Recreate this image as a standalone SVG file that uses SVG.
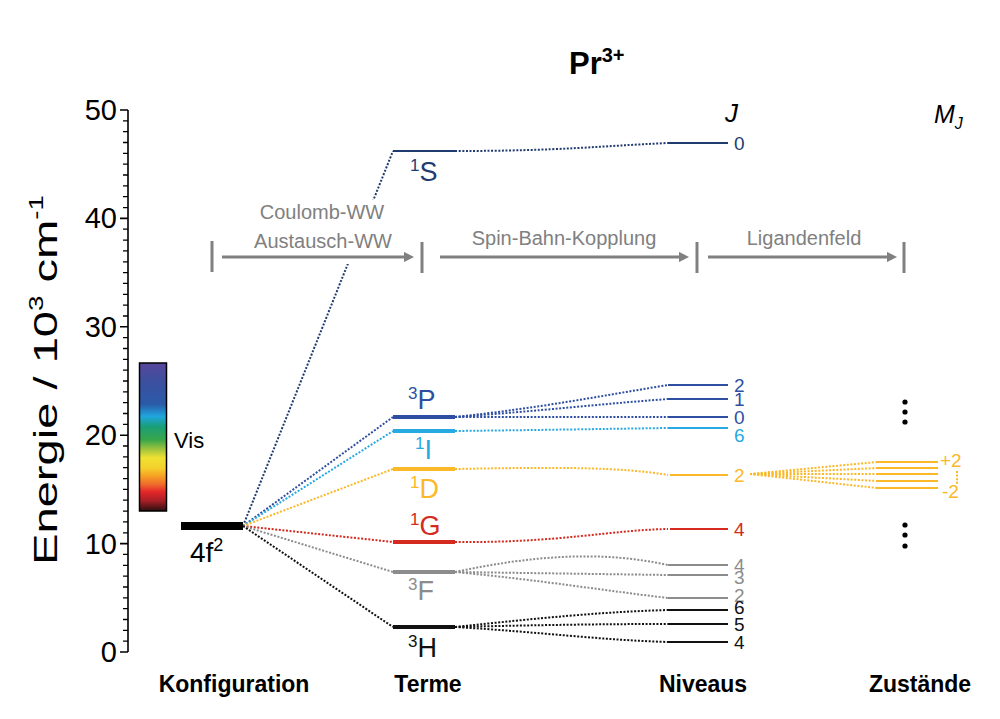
<svg xmlns="http://www.w3.org/2000/svg" width="1000" height="719" viewBox="0 0 1000 719">
<defs>
<linearGradient id="visGrad" x1="0" y1="0" x2="0" y2="1">
<stop offset="0" stop-color="#56479a"/>
<stop offset="0.12" stop-color="#3d4f9f"/>
<stop offset="0.28" stop-color="#2a5ba8"/>
<stop offset="0.36" stop-color="#1fa6df"/>
<stop offset="0.43" stop-color="#1a9e78"/>
<stop offset="0.52" stop-color="#3aa64a"/>
<stop offset="0.58" stop-color="#9cc23e"/>
<stop offset="0.64" stop-color="#efe232"/>
<stop offset="0.71" stop-color="#f5d02c"/>
<stop offset="0.76" stop-color="#f6a424"/>
<stop offset="0.82" stop-color="#ef6b2a"/>
<stop offset="0.87" stop-color="#e4272a"/>
<stop offset="0.93" stop-color="#a91f25"/>
<stop offset="1" stop-color="#2a1010"/>
</linearGradient>
<marker id="arrow" viewBox="0 0 10 10" refX="2" refY="5" markerWidth="3.4" markerHeight="3.4" orient="auto" markerUnits="strokeWidth">
<path d="M0,0 L10,5 L0,10 z" fill="#808080"/>
</marker>
</defs>
<style>
text { font-family: "Liberation Sans", Arial, sans-serif; }
.dot { fill: none; stroke-width: 2; stroke-dasharray: 2 1.6; }
.lvl { stroke-width: 2; fill: none; }
.term { stroke-width: 4; fill: none; }
.tl { font-size: 27px; }
.sup { font-size: 17px; }
.jl { font-size: 19px; }
.proc { fill: #808080; font-size: 20px; text-anchor: middle; }
.bar { stroke: #808080; stroke-width: 3; }
.arr { stroke: #808080; stroke-width: 3; marker-end: url(#arrow); }
.col { font-size: 23px; font-weight: bold; text-anchor: middle; fill: #000; }
.s1S { stroke: #1f3b70; } .f1S { fill: #1f3b70; }
.s3P { stroke: #2e4fa1; } .f3P { fill: #2e4fa1; }
.s1I { stroke: #29a9e1; } .f1I { fill: #29a9e1; }
.s1D { stroke: #fbb829; } .f1D { fill: #fbb829; }
.s1G { stroke: #d42a20; } .f1G { fill: #d42a20; }
.s3F { stroke: #8c8c8c; } .f3F { fill: #8c8c8c; }
.s3H { stroke: #111111; } .f3H { fill: #111111; }
.ell { fill: #000; }
</style>

<!-- title and column headers -->
<g id="title">
<text x="569" y="74" font-size="31" font-weight="bold">Pr<tspan font-size="20" dy="-12">3+</tspan></text>
</g>
<g id="header-J"><text x="725" y="122" font-size="26" font-style="italic">J</text></g>
<g id="header-MJ"><text x="934" y="123" font-size="25" font-style="italic">M<tspan font-size="16" dy="6">J</tspan></text></g>

<!-- axis -->
<g id="axis">
<path d="M128,110 V652 M120,110 H128 M120,218.4 H128 M120,326.8 H128 M120,435.2 H128 M120,543.6 H128 M120,652 H128" stroke="#000" stroke-width="1.6" fill="none"/>
<path d="M123,641.2 H128 M123,630.3 H128 M123,619.5 H128 M123,608.6 H128 M123,597.8 H128 M123,587 H128 M123,576.1 H128 M123,565.3 H128 M123,554.4 H128
M123,532.8 H128 M123,521.9 H128 M123,511.1 H128 M123,500.2 H128 M123,489.4 H128 M123,478.6 H128 M123,467.7 H128 M123,456.9 H128 M123,446 H128
M123,424.4 H128 M123,413.5 H128 M123,402.7 H128 M123,391.8 H128 M123,381 H128 M123,370.2 H128 M123,359.3 H128 M123,348.5 H128 M123,337.6 H128
M123,316 H128 M123,305.1 H128 M123,294.3 H128 M123,283.4 H128 M123,272.6 H128 M123,261.8 H128 M123,250.9 H128 M123,240.1 H128 M123,229.2 H128
M123,207.6 H128 M123,196.7 H128 M123,185.9 H128 M123,175 H128 M123,164.2 H128 M123,153.4 H128 M123,142.5 H128 M123,131.7 H128 M123,120.8 H128" stroke="#000" stroke-width="1.3" fill="none"/>
<g font-size="29" text-anchor="end">
<text x="117" y="120">50</text>
<text x="117" y="228.4">40</text>
<text x="117" y="336.8">30</text>
<text x="117" y="445.2">20</text>
<text x="117" y="553.6">10</text>
<text x="117" y="662">0</text>
</g>
<text transform="translate(57,380) rotate(-90)" font-size="34" text-anchor="middle" textLength="370" lengthAdjust="spacingAndGlyphs">Energie / 10<tspan font-size="20" dy="-14">3</tspan><tspan dy="14"> cm</tspan><tspan font-size="20" dy="-14">-1</tspan></text>
</g>

<!-- visible range bar -->
<g id="vis-bar">
<rect x="139.5" y="363" width="27" height="148" fill="url(#visGrad)" stroke="#000" stroke-width="1.5"/>
<text x="174" y="448" font-size="22">Vis</text>
</g>

<!-- connectors -->
<g id="connectors">
<path class="dot s1S" d="M243,526 L393,151"/>
<path class="dot s3P" d="M243,526 L393,417"/>
<path class="dot s1I" d="M243,526 L393,431"/>
<path class="dot s1D" d="M243,526 L393,469"/>
<path class="dot s1G" d="M243,526 L393,542"/>
<path class="dot s3F" d="M243,526 L393,572"/>
<path class="dot s3H" d="M243,526 L393,627"/>

<path class="dot s1S" d="M455,151 C560,151 600,146 668,143"/>
<path class="dot s3P" d="M455,417 C540,408 600,396 668,385"/>
<path class="dot s3P" d="M455,417 C540,411 600,404 668,399"/>
<path class="dot s3P" d="M455,417 L668,417"/>
<path class="dot s1I" d="M455,431 C540,430 600,429 668,428"/>
<path class="dot s1D" d="M455,469 C560,467 620,467 668,475"/>
<path class="dot s1G" d="M455,542 C560,543 610,530 668,529"/>
<path class="dot s3F" d="M455,572 C530,556 600,550 668,565"/>
<path class="dot s3F" d="M455,572 L668,575"/>
<path class="dot s3F" d="M455,572 C540,580 600,590 668,598"/>
<path class="dot s3H" d="M455,627 C540,618 600,612 668,610"/>
<path class="dot s3H" d="M455,627 C540,625 600,624 668,624"/>
<path class="dot s3H" d="M455,627 C540,632 600,640 668,642"/>

<path class="dot s1D" d="M750,474 L877,462"/>
<path class="dot s1D" d="M750,474 L877,468"/>
<path class="dot s1D" d="M750,474 L877,474"/>
<path class="dot s1D" d="M750,474 L877,481"/>
<path class="dot s1D" d="M750,474 L877,488"/>
</g>

<!-- process arrows -->
<g id="process">
<rect x="250" y="200" width="150" height="64" fill="#fff"/>
<line class="bar" x1="212" y1="241" x2="212" y2="272"/>
<line class="bar" x1="422" y1="242" x2="422" y2="273"/>
<line class="bar" x1="697" y1="242" x2="697" y2="273"/>
<line class="bar" x1="904" y1="242" x2="904" y2="273"/>
<line class="arr" x1="222" y1="257" x2="406" y2="257"/>
<line class="arr" x1="440" y1="257" x2="681" y2="257"/>
<line class="arr" x1="708" y1="257" x2="889" y2="257"/>
<text class="proc" x="322" y="219">Coulomb-WW</text>
<text class="proc" x="323" y="248">Austausch-WW</text>
<text class="proc" x="564" y="245">Spin-Bahn-Kopplung</text>
<text class="proc" x="804" y="245">Ligandenfeld</text>
</g>

<!-- configuration -->
<g id="config-4f2">
<rect x="181" y="522" width="62" height="8" fill="#000"/>
<text x="190" y="562" font-size="28">4f<tspan font-size="18" dy="-11">2</tspan></text>
</g>

<!-- terms -->
<g id="term-1S">
<line class="lvl s1S" x1="393" y1="151" x2="455" y2="151"/>
<text class="tl f1S" x="410" y="181"><tspan class="sup" dy="-10">1</tspan><tspan dy="10">S</tspan></text>
</g>
<g id="term-3P">
<line class="term s3P" x1="393" y1="417" x2="455" y2="417"/>
<text class="tl f3P" x="408" y="409"><tspan class="sup" dy="-10">3</tspan><tspan dy="10">P</tspan></text>
</g>
<g id="term-1I">
<line class="term s1I" x1="393" y1="431" x2="455" y2="431"/>
<text class="tl f1I" x="415" y="459"><tspan class="sup" dy="-10">1</tspan><tspan dy="10">I</tspan></text>
</g>
<g id="term-1D">
<line class="term s1D" x1="393" y1="469" x2="455" y2="469"/>
<text class="tl f1D" x="410" y="498"><tspan class="sup" dy="-10">1</tspan><tspan dy="10">D</tspan></text>
</g>
<g id="term-1G">
<line class="term s1G" x1="393" y1="542" x2="455" y2="542"/>
<text class="tl f1G" x="410" y="535"><tspan class="sup" dy="-10">1</tspan><tspan dy="10">G</tspan></text>
</g>
<g id="term-3F">
<line class="term s3F" x1="393" y1="572" x2="455" y2="572"/>
<text class="tl f3F" x="408" y="600"><tspan class="sup" dy="-10">3</tspan><tspan dy="10">F</tspan></text>
</g>
<g id="term-3H">
<line class="term s3H" x1="393" y1="627" x2="455" y2="627"/>
<text class="tl f3H" x="408" y="657"><tspan class="sup" dy="-10">3</tspan><tspan dy="10">H</tspan></text>
</g>

<!-- levels (Niveaus) -->
<g id="niveau-1S0">
<line class="lvl s1S" x1="668" y1="143" x2="728" y2="143"/>
<text class="jl f1S" x="734" y="150">0</text>
</g>
<g id="niveau-3P2">
<line class="lvl s3P" x1="668" y1="385" x2="728" y2="385"/>
<text class="jl f3P" x="734" y="392">2</text>
</g>
<g id="niveau-3P1">
<line class="lvl s3P" x1="668" y1="399" x2="728" y2="399"/>
<text class="jl f3P" x="734" y="406">1</text>
</g>
<g id="niveau-3P0">
<line class="lvl s3P" x1="668" y1="417" x2="728" y2="417"/>
<text class="jl f3P" x="734" y="424">0</text>
</g>
<g id="niveau-1I6">
<line class="lvl s1I" x1="668" y1="428" x2="728" y2="428"/>
<text class="jl f1I" x="734" y="442">6</text>
</g>
<g id="niveau-1D2">
<line class="lvl s1D" x1="670" y1="475" x2="728" y2="475"/>
<text class="jl f1D" x="734" y="482">2</text>
</g>
<g id="niveau-1G4">
<line class="lvl s1G" x1="670" y1="529" x2="728" y2="529"/>
<text class="jl f1G" x="734" y="536">4</text>
</g>
<g id="niveau-3F4">
<line class="lvl s3F" x1="668" y1="565" x2="728" y2="565"/>
<text class="jl f3F" x="734" y="572">4</text>
</g>
<g id="niveau-3F3">
<line class="lvl s3F" x1="668" y1="575" x2="728" y2="575"/>
<text class="jl f3F" x="734" y="584">3</text>
</g>
<g id="niveau-3F2">
<line class="lvl s3F" x1="668" y1="598" x2="728" y2="598"/>
<text class="jl f3F" x="734" y="602">2</text>
</g>
<g id="niveau-3H6">
<line class="lvl s3H" x1="668" y1="610" x2="728" y2="610"/>
<text class="jl f3H" x="734" y="614">6</text>
</g>
<g id="niveau-3H5">
<line class="lvl s3H" x1="668" y1="624" x2="728" y2="624"/>
<text class="jl f3H" x="734" y="631">5</text>
</g>
<g id="niveau-3H4">
<line class="lvl s3H" x1="668" y1="642" x2="728" y2="642"/>
<text class="jl f3H" x="734" y="649">4</text>
</g>

<!-- states (Zustaende) -->
<g id="states-1D2">
<line class="lvl s1D" x1="877" y1="462" x2="938" y2="462" stroke-width="2.5"/>
<line class="lvl s1D" x1="877" y1="468" x2="938" y2="468" stroke-width="2.5"/>
<line class="lvl s1D" x1="877" y1="474" x2="938" y2="474" stroke-width="2.5"/>
<line class="lvl s1D" x1="877" y1="481" x2="938" y2="481" stroke-width="2.5"/>
<line class="lvl s1D" x1="877" y1="488" x2="938" y2="488" stroke-width="2.5"/>
<line class="dot s1D" x1="957" y1="471" x2="957" y2="485"/>
<text class="jl f1D" x="940" y="467">+2</text>
<text class="jl f1D" x="942" y="498">-2</text>
</g>
<g id="states-upper">
<circle class="ell" cx="905" cy="402" r="2.6"/>
<circle class="ell" cx="905" cy="412" r="2.6"/>
<circle class="ell" cx="905" cy="422" r="2.6"/>
</g>
<g id="states-lower">
<circle class="ell" cx="905" cy="525" r="2.6"/>
<circle class="ell" cx="905" cy="535" r="2.6"/>
<circle class="ell" cx="905" cy="546" r="2.6"/>
</g>

<!-- column labels -->
<g id="column-labels">
<text class="col" x="234" y="692">Konfiguration</text>
<text class="col" x="428" y="692">Terme</text>
<text class="col" x="703" y="692">Niveaus</text>
<text class="col" x="920" y="692">Zustände</text>
</g>
</svg>
